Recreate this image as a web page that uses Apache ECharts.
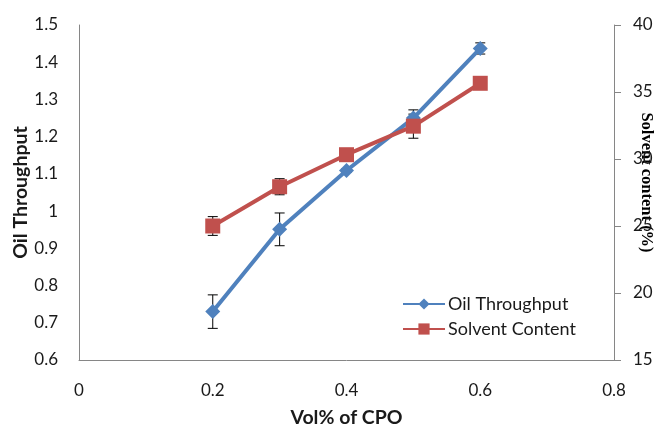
<!DOCTYPE html>
<html>
<head>
<meta charset="utf-8">
<script src="https://cdn.jsdelivr.net/npm/echarts@6/dist/echarts.min.js"></script>
<style>html,body{margin:0;padding:0;background:#fff}#c{width:658px;height:424px}</style>
</head>
<body>
<div id="c"></div>
<script>
const volCPO = [0.2, 0.3, 0.4, 0.5, 0.6];
const oilThroughput = [0.73, 0.951, 1.109, 1.25, 1.437];
const oilErr = [0.045, 0.044, 0.005, 0.022, 0.015];
const solventContent = [25.0, 27.93, 30.32, 32.45, 35.65];
const solventErr = [0.7, 0.6, 0.2, 0.9, 0.2];
const xTicks = [0, 0.2, 0.4, 0.6, 0.8];

const FONT = 'Lato';
const AXIS_COLOR = '#868686';

function pairs(xs, ys) { return xs.map((x, i) => [x, ys[i]]); }
function errData(xs, ys, es) { return xs.map((x, i) => [x, ys[i] - es[i], ys[i] + es[i]]); }

function errRender(params, api) {
  const x = api.value(0), lo = api.value(1), hi = api.value(2);
  const p1 = api.coord([x, hi]), p2 = api.coord([x, lo]);
  const hw = 5;
  const st = { stroke: '#000', lineWidth: 1 };
  return {
    type: 'group',
    children: [
      { type: 'line', shape: { x1: p1[0], y1: p1[1], x2: p2[0], y2: p2[1] }, style: st },
      { type: 'line', shape: { x1: p1[0] - hw, y1: p1[1], x2: p1[0] + hw, y2: p1[1] }, style: st },
      { type: 'line', shape: { x1: p2[0] - hw, y1: p2[1], x2: p2[0] + hw, y2: p2[1] }, style: st }
    ]
  };
}

const chart = echarts.init(document.getElementById('c'), null, { renderer: 'canvas' });
chart.setOption({
  animation: false,
  backgroundColor: '#fff',
  grid: { left: 79, right: 44, top: 25, bottom: 64, containLabel: false, outerBoundsMode: 'none' },
  legend: {
    data: ['Oil Throughput', 'Solvent Content'],
    orient: 'vertical',
    left: 397, top: 290,
    itemWidth: 42, itemHeight: 14, itemGap: 7,
    textStyle: { fontFamily: FONT, fontSize: 18, color: '#1a1a1a', padding: [0, 0, 0, -2] }
  },
  xAxis: {
    type: 'value', min: 0, max: 0.8, interval: 0.2,
    name: 'Vol% of CPO', nameLocation: 'middle', nameGap: 48, nameMoveOverlap: false,
    nameTextStyle: { fontFamily: FONT, fontSize: 19.5, fontWeight: 'bold', color: '#1a1a1a' },
    axisLine: { show: true, lineStyle: { color: AXIS_COLOR, width: 1 } },
    axisTick: { show: false },
    splitLine: { show: false },
    axisLabel: { fontFamily: FONT, fontSize: 17, color: '#1a1a1a', margin: 22,
      formatter: v => { const t = xTicks.find(k => Math.abs(k - v) < 1e-9); return String(t !== undefined ? t : v); } }
  },
  yAxis: [
    {
      type: 'value', min: 0.6, max: 1.5, interval: 0.1, position: 'left',
      name: 'Oil Throughput', nameLocation: 'middle', nameGap: 48, nameMoveOverlap: false,
      nameTextStyle: { fontFamily: FONT, fontSize: 19.5, fontWeight: 'bold', color: '#1a1a1a' },
      axisLine: { show: true, lineStyle: { color: AXIS_COLOR, width: 1 } },
      axisTick: { show: false },
      splitLine: { show: false },
      axisLabel: { fontFamily: FONT, fontSize: 17, color: '#1a1a1a', margin: 21,
        formatter: v => String(Math.round(v * 10) / 10) }
    },
    {
      type: 'value', min: 15, max: 40, interval: 5, position: 'right',
      name: 'Solvent content (%)', nameLocation: 'middle', nameGap: 24, nameRotate: -90, nameMoveOverlap: false,
      nameTextStyle: { fontFamily: 'Liberation Serif', fontSize: 16.5, fontWeight: 'bold', color: '#000', padding: [0, 20, 0, 0] },
      axisLine: { show: true, lineStyle: { color: AXIS_COLOR, width: 1 } },
      axisTick: { show: true, inside: false, length: 7, lineStyle: { color: AXIS_COLOR } },
      splitLine: { show: false },
      axisLabel: { fontFamily: FONT, fontSize: 17, color: '#1a1a1a', margin: 19 }
    }
  ],
  series: [
    {
      name: 'oilErr', type: 'custom', xAxisIndex: 0, yAxisIndex: 0, z: 1,
      renderItem: errRender, data: errData(volCPO, oilThroughput, oilErr),
      encode: { x: 0, y: [1, 2] }, silent: true
    },
    {
      name: 'solventErr', type: 'custom', xAxisIndex: 0, yAxisIndex: 1, z: 1,
      renderItem: errRender, data: errData(volCPO, solventContent, solventErr),
      encode: { x: 0, y: [1, 2] }, silent: true
    },
    {
      name: 'Oil Throughput', type: 'line', yAxisIndex: 0, z: 2,
      data: pairs(volCPO, oilThroughput),
      symbol: 'diamond', symbolSize: 15, showAllSymbol: true,
      lineStyle: { color: '#4F81BD', width: 4 },
      itemStyle: { color: '#4F81BD', borderWidth: 0 }
    },
    {
      name: 'Solvent Content', type: 'line', yAxisIndex: 1, z: 3,
      data: pairs(volCPO, solventContent),
      symbol: 'rect', symbolSize: 15, showAllSymbol: true,
      lineStyle: { color: '#C0504D', width: 4 },
      itemStyle: { color: '#C0504D', borderWidth: 0 }
    }
  ]
});
</script>
</body>
</html>
